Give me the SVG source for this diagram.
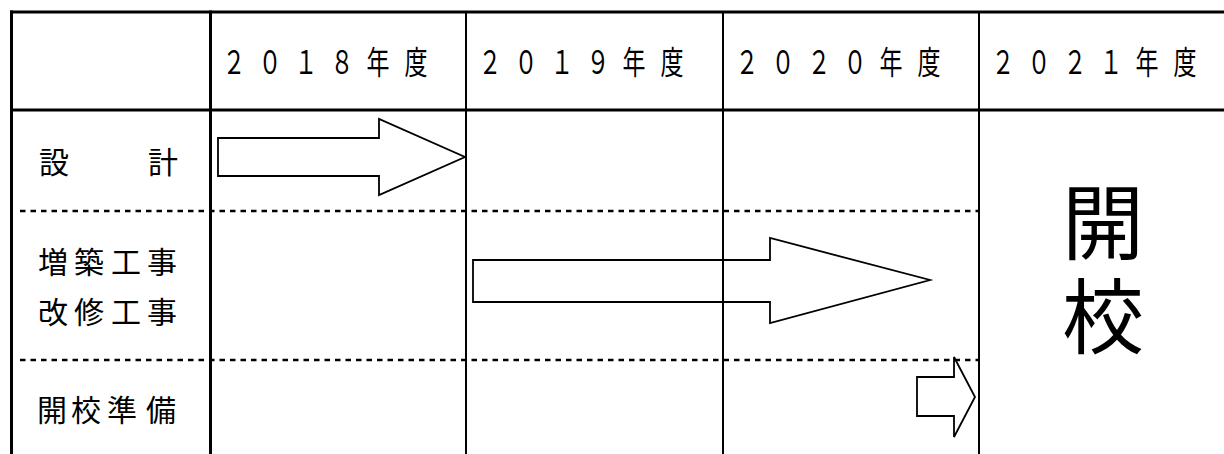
<svg xmlns="http://www.w3.org/2000/svg" width="1224" height="454" viewBox="0 0 1224 454">
<style>
.t{font-family:"Noto Sans CJK JP","Noto Sans CJK SC",sans-serif;fill:#000}
.hd{font-size:23px;text-anchor:middle}
.lb{font-size:30px;text-anchor:middle}
.big{font-size:82px;writing-mode:vertical-rl;letter-spacing:12px}
.thick{stroke:#000;stroke-width:3;fill:none}
.thin{stroke:#000;stroke-width:2;fill:none}
.dash{stroke:#000;stroke-width:2.4;stroke-dasharray:5.5 5;fill:none}
.arr{stroke:#000;stroke-width:1.8;fill:none;stroke-linejoin:miter}
</style>
<rect width="1224" height="454" fill="#fff"/>
<g id="grid">
<line class="thick" x1="10" y1="12" x2="1224" y2="12"/>
<line class="thick" x1="10" y1="110" x2="1224" y2="110"/>
<line class="thick" x1="11.5" y1="10.5" x2="11.5" y2="454"/>
<line class="thick" x1="210.5" y1="10.5" x2="210.5" y2="454"/>
<line class="thin" x1="466" y1="12" x2="466" y2="454"/>
<line class="thin" x1="723" y1="12" x2="723" y2="454"/>
<line class="thin" x1="979" y1="12" x2="979" y2="454"/>
<line class="dash" x1="20" y1="211" x2="979" y2="211"/>
<line class="dash" x1="20" y1="360" x2="979" y2="360"/>
</g>
<g id="header">
<text class="t hd" transform="translate(0,73.5) scale(1,1.4)" x="234 270 306 342 378 416" y="0">２０１８年度</text>
<text class="t hd" transform="translate(256,73.5) scale(1,1.4)" x="234 270 306 342 378 416" y="0">２０１９年度</text>
<text class="t hd" transform="translate(513,73.5) scale(1,1.4)" x="234 270 306 342 378 416" y="0">２０２０年度</text>
<text class="t hd" transform="translate(769,73.5) scale(1,1.4)" x="234 270 306 342 378 416" y="0">２０２１年度</text>
</g>
<g id="row-sekkei">
<text class="t lb" x="54 90 126 163" y="173">設　　計</text>
</g>
<g id="row-kouji">
<text class="t lb" x="53 89 126 162" y="273">増築工事</text>
<text class="t lb" x="53 89 126 162" y="323">改修工事</text>
</g>
<g id="row-junbi">
<text class="t lb" x="52 86 122 161" y="421">開校準備</text>
</g>
<g id="kaikou">
<text class="t big" x="1103" y="181">開校</text>
</g>
<g id="arrows">
<polygon id="arrow-sekkei" class="arr" points="218,138 379,138 379,119 465,157 379,195 379,176 218,176"/>
<polygon id="arrow-kouji" class="arr" points="473,260 770,260 770,238 930,280 770,323 770,302 473,302"/>
<polygon id="arrow-junbi" class="arr" points="917,377 954,377 954,357 975,397 954,437 954,416 917,416"/>
</g>
</svg>
